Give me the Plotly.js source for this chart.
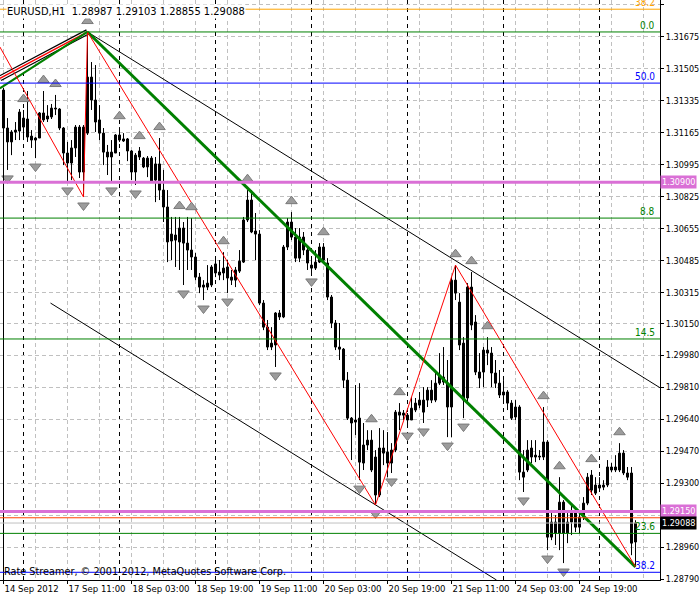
<!DOCTYPE html>
<html><head><meta charset="utf-8">
<script src="https://cdn.plot.ly/plotly-3.0.1.min.js"></script>
<style>html,body{margin:0;padding:0;background:#fff}#chart{width:700px;height:600px}</style>
</head><body><div id="chart"></div>
<script>
const symbolName = "EURUSD,H1";
const opens = [
1.31391,1.31189,1.31115,1.31168,1.31173,1.31194,1.31237,1.31146,1.31125,1.31136,
1.31269,1.31237,1.31248,1.31295,1.31290,1.31189,1.31056,1.31003,1.31083,1.31194,
1.30955,1.31162,1.31460,1.31338,1.31232,1.31162,1.31061,1.31035,1.31056,1.31152,
1.31131,1.31131,1.31067,1.30955,1.31067,1.31029,1.30982,1.31029,1.30912,1.30998,
1.30859,1.30769,1.30588,1.30620,1.30583,1.30657,1.30577,1.30540,1.30503,1.30396,
1.30354,1.30343,1.30354,1.30418,1.30423,1.30418,1.30450,1.30396,1.30380,1.30428,
1.30476,1.30700,1.30806,1.30641,1.30625,1.30258,1.30130,1.30024,1.30035,1.30205,
1.30184,1.30556,1.30689,1.30609,1.30497,1.30609,1.30540,1.30460,1.30444,1.30476,
1.30487,1.30471,1.30290,1.30152,1.30024,1.30013,1.29848,1.29646,1.29625,1.29646,
1.29407,1.29503,1.29529,1.29439,1.29237,1.29487,1.29465,1.29407,1.29476,1.29662,
1.29673,1.29662,1.29636,1.29689,1.29715,1.29742,1.29742,1.29795,1.29742,1.29832,
1.29838,1.29832,1.29705,1.30380,1.30263,1.30045,1.29753,1.30343,1.30157,1.29859,
1.29891,1.29992,1.29992,1.29886,1.29832,1.29769,1.29785,1.29726,1.29652,1.29705,
1.29332,1.29370,1.29439,1.29449,1.29444,1.29439,1.29519,1.29013,1.29093,1.29034,
1.29199,1.29034,1.29093,1.29141,1.29066,1.29120,1.29194,1.29343,1.29247,1.29290,
1.29279,1.29290,1.29386,1.29386,1.29370,1.29460,1.29354,1.29354,1.28987];
const highs = [
1.31402,1.31242,1.31178,1.31221,1.31290,1.31285,1.31386,1.31178,1.31141,1.31274,
1.31386,1.31311,1.31317,1.31365,1.31295,1.31194,1.31115,1.31125,1.31205,1.31205,
1.31205,1.31700,1.31540,1.31524,1.31311,1.31189,1.31099,1.31125,1.31157,1.31194,
1.31162,1.31136,1.31072,1.31056,1.31088,1.31035,1.31040,1.31040,1.31035,1.31136,
1.30966,1.30859,1.30716,1.30716,1.30716,1.30689,1.30716,1.30710,1.30524,1.30418,
1.30380,1.30460,1.30460,1.30487,1.30487,1.30529,1.30487,1.30434,1.30450,1.30540,
1.30716,1.30859,1.30859,1.30737,1.30646,1.30274,1.30168,1.30130,1.30210,1.30221,
1.30567,1.30710,1.30742,1.30657,1.30657,1.30636,1.30551,1.30503,1.30540,1.30577,
1.30577,1.30497,1.30301,1.30168,1.30152,1.30019,1.29891,1.29652,1.29822,1.29832,
1.29620,1.29582,1.29582,1.29476,1.29593,1.29582,1.29572,1.29513,1.29689,1.29726,
1.29689,1.29673,1.29758,1.29753,1.29785,1.29811,1.29811,1.29848,1.29902,1.29992,
1.30024,1.29955,1.30396,1.30460,1.30311,1.30077,1.30364,1.30423,1.30194,1.29992,
1.30024,1.30077,1.30024,1.29955,1.29902,1.29848,1.29795,1.29742,1.29742,1.29715,
1.29476,1.29529,1.29529,1.29529,1.29476,1.29705,1.29529,1.29157,1.29130,1.29332,
1.29210,1.29141,1.29183,1.29157,1.29141,1.29226,1.29354,1.29370,1.29332,1.29332,
1.29316,1.29423,1.29407,1.29449,1.29513,1.29476,1.29386,1.29386,1.29103];
const lows = [
1.31125,1.30966,1.31045,1.31125,1.31125,1.31125,1.31115,1.31083,1.31029,1.31136,
1.31221,1.31221,1.31237,1.31258,1.31178,1.30992,1.30902,1.30912,1.31035,1.30923,
1.30822,1.31152,1.31285,1.31168,1.31125,1.30992,1.30939,1.30902,1.31056,1.31115,
1.31115,1.31013,1.30912,1.30886,1.31019,1.30976,1.30928,1.30902,1.30795,1.30806,
1.30689,1.30476,1.30487,1.30450,1.30434,1.30354,1.30434,1.30434,1.30380,1.30311,
1.30274,1.30327,1.30343,1.30396,1.30380,1.30380,1.30311,1.30354,1.30343,1.30418,
1.30471,1.30689,1.30630,1.30487,1.30247,1.30114,1.30008,1.30008,1.29918,1.30168,
1.30178,1.30540,1.30593,1.30476,1.30476,1.30513,1.30434,1.30418,1.30434,1.30471,
1.30471,1.30274,1.30125,1.30008,1.29955,1.29806,1.29636,1.29423,1.29556,1.29316,
1.29370,1.29476,1.29359,1.29184,1.29226,1.29396,1.29332,1.29354,1.29465,1.29582,
1.29636,1.29598,1.29636,1.29678,1.29699,1.29620,1.29705,1.29726,1.29731,1.29822,
1.29822,1.29545,1.29545,1.30274,1.30008,1.29646,1.29726,1.30114,1.29875,1.29806,
1.29811,1.29928,1.29811,1.29806,1.29753,1.29726,1.29689,1.29636,1.29636,1.29316,
1.29253,1.29359,1.29407,1.29412,1.29423,1.29423,1.28944,1.28997,1.28971,1.28944,
1.28875,1.28981,1.29024,1.29040,1.29034,1.29104,1.29183,1.29237,1.29237,1.29253,
1.29263,1.29279,1.29359,1.29359,1.29359,1.29343,1.29316,1.28917,1.28855];
const closes = [
1.31189,1.31115,1.31168,1.31178,1.31274,1.31242,1.31141,1.31125,1.31136,1.31269,
1.31232,1.31253,1.31295,1.31290,1.31189,1.31056,1.31003,1.31083,1.31194,1.30955,
1.31194,1.31460,1.31338,1.31221,1.31162,1.31061,1.31035,1.31061,1.31152,1.31125,
1.31120,1.31067,1.30955,1.31045,1.31035,1.30982,1.31029,1.30907,1.30998,1.30859,
1.30769,1.30583,1.30625,1.30593,1.30657,1.30577,1.30540,1.30503,1.30396,1.30343,
1.30343,1.30364,1.30450,1.30466,1.30407,1.30444,1.30391,1.30380,1.30434,1.30481,
1.30700,1.30806,1.30636,1.30625,1.30258,1.30130,1.30024,1.30045,1.30205,1.30184,
1.30556,1.30689,1.30609,1.30497,1.30609,1.30540,1.30471,1.30444,1.30476,1.30556,
1.30556,1.30290,1.30152,1.30024,1.30013,1.29848,1.29646,1.29620,1.29636,1.29412,
1.29503,1.29529,1.29370,1.29237,1.29487,1.29460,1.29407,1.29476,1.29678,1.29678,
1.29662,1.29636,1.29699,1.29726,1.29742,1.29678,1.29795,1.29742,1.29832,1.29875,
1.29864,1.29705,1.30380,1.30311,1.30035,1.29742,1.30343,1.30141,1.29891,1.29891,
1.30008,1.30008,1.29886,1.29832,1.29769,1.29785,1.29726,1.29646,1.29705,1.29359,
1.29359,1.29476,1.29487,1.29439,1.29439,1.29519,1.29013,1.29093,1.29034,1.29199,
1.29034,1.29093,1.29141,1.29066,1.29120,1.29194,1.29332,1.29263,1.29290,1.29274,
1.29290,1.29386,1.29370,1.29370,1.29460,1.29354,1.29332,1.28981,1.29088];

const timeTickIndex = [0,16,32,48,64,80,96,112,128,144];
const timeTickText = ["14 Sep 2012","17 Sep 11:00","18 Sep 03:00","18 Sep 19:00","19 Sep 11:00",
  "20 Sep 03:00","20 Sep 19:00","21 Sep 11:00","24 Sep 03:00","24 Sep 19:00"];
const daySeparators = [5,29,53,77,101,125,149];
const priceTicks = [1.31845,1.31675,1.31505,1.31335,1.31165,1.30995,1.30825,1.30655,1.30485,
  1.30315,1.30150,1.29980,1.29810,1.29640,1.29470,1.29300,1.29130,1.28960,1.28790];
const priceTickText = ["1.31845","1.31675","1.31505","1.31335","1.31165","1.30995","1.30825","1.30655","1.30485",
  "1.30315","1.30150","1.29980","1.29810","1.29640","1.29470","1.29300","","1.28960","1.28790"];

const upFractals = [5,10,13,21,29,34,39,44,47,55,61,72,80,92,99,113,117,121,135,139,147,154];
const downFractals = [1,8,16,20,27,33,45,50,56,68,77,89,93,97,101,105,111,115,130,136,140];

const zigzagIndex = [-0.9,20,21,93,113,158];
const zigzagPrice = [1.31620,1.30822,1.31700,1.29184,1.30460,1.28855];
const trendIndex = [21,158];
const trendPrice = [1.31700,1.28855];
const riseGreenIndex = [-0.9,21];
const riseGreenPrice = [1.31400,1.31700];
const riseRedIndex = [-0.9,21];
const riseRedPrice = [1.31453,1.31700];
const channelUpperIndex = [21,164.25];
const channelUpperPrice = [1.31700,1.29806];
const channelLowerIndex = [11.75,123.25];
const channelLowerPrice = [1.30258,1.28785];

const levelPrices = [1.31821,1.31700,1.31428,1.30900,1.30710,1.30067,1.29150,1.29116,1.29088,1.29033,1.28826];
const levelNames  = ["38.2","0.0","50.0","","8.8","14.5","","","","23.6","38.2"];
const markedPrices = [1.30900,1.29150];

/* styles */
const levelColors = ["#FFA500","#008000","#0000FF","#DA70D6","#008000","#008000","#DA70D6","#FF4500","#C0C0C0","#008000","#0000FF"];
const levelWidths = [1,1,1,3,1,1,3,1,1,1,1];
const FONT = "Tahoma, 'DejaVu Sans Condensed', 'Liberation Sans', Arial, sans-serif";
const upOffset = 0.00058, downOffset = 0.00045;

const idx = opens.map((_, i) => i);
const n = closes.length;

const traces = [];
// wicks
const wx = [], wy = [];
idx.forEach(i => { wx.push(i, i, null); wy.push(lows[i], highs[i], null); });
traces.push({type:'scatter', mode:'lines', x:wx, y:wy, line:{color:'#000000', width:1},
  hoverinfo:'skip', showlegend:false, connectgaps:false});
// bodies
const bodyBase = idx.map(i => Math.min(opens[i], closes[i]));
const bodyLen = idx.map(i => Math.max(Math.abs(closes[i] - opens[i]), 0.000005));
const bodyFill = idx.map(i => closes[i] >= opens[i] ? '#FFFFFF' : '#000000');
traces.push({type:'bar', x: idx, base: bodyBase, y: bodyLen, width: 0.5,
  marker:{color: bodyFill, line:{color:'#000000', width:1}},
  hoverinfo:'skip', showlegend:false});

function line(x, y, color, width, dash){
  return {type:'scatter', mode:'lines', x:x, y:y, line:{color:color, width:width, dash:dash||'solid'},
    hoverinfo:'skip', showlegend:false, cliponaxis:true};
}
traces.push(line(riseRedIndex, riseRedPrice, '#000000', 6));
traces.push(line(riseRedIndex, riseRedPrice, '#FFFFFF', 3.5));
traces.push(line(riseRedIndex, riseRedPrice, '#FF0000', 1.5));
traces.push(line(riseGreenIndex, riseGreenPrice, '#008000', 2));
traces.push(line(channelUpperIndex, channelUpperPrice, '#000000', 1));
traces.push(line(channelLowerIndex, channelLowerPrice, '#000000', 1));
traces.push(line(trendIndex, trendPrice, '#008000', 3));
traces.push(line(zigzagIndex, zigzagPrice, '#FF0000', 1));

traces.push({type:'scatter', mode:'markers', x: upFractals, y: upFractals.map(i => highs[i] + upOffset),
  marker:{symbol:'triangle-up', size:10, color:'#9C9C9C', line:{color:'#7A7A7A', width:1}},
  hoverinfo:'skip', showlegend:false});
traces.push({type:'scatter', mode:'markers', x: downFractals, y: downFractals.map(i => lows[i] - downOffset),
  marker:{symbol:'triangle-down', size:10, color:'#9C9C9C', line:{color:'#7A7A7A', width:1}},
  hoverinfo:'skip', showlegend:false});

const shapes = [];
daySeparators.forEach(d => shapes.push({type:'line', xref:'x', yref:'paper', x0:d, x1:d, y0:0, y1:1,
  line:{color:'#000000', width:1, dash:'4px,4px'}, layer:'below'}));
shapes.push({type:'line', xref:'x', yref:'paper', x0:idx[0], x1:idx[0], y0:0, y1:0.848,
  line:{color:'#000000', width:1}, layer:'above'});
levelPrices.forEach((p, k) => shapes.push({type:'line', xref:'paper', yref:'y', x0:0, x1:1, y0:p, y1:p,
  line:{color:levelColors[k], width:levelWidths[k]}, layer:'above'}));

const annotations = [];
levelPrices.forEach((p, k) => {
  if(!levelNames[k]) return;
  annotations.push({xref:'paper', yref:'y', x:1, y:p, xanchor:'right', yanchor:'bottom', xshift:-3, yshift:-1,
    text: levelNames[k], showarrow:false, font:{family:FONT, size:10, color:levelColors[k]}});
});
markedPrices.forEach(p => annotations.push({xref:'paper', yref:'y', x:1, y:p, xanchor:'left', yanchor:'middle', xshift:0,
  text: p.toFixed(5), showarrow:false, bgcolor:'#DA70D6', borderpad:1, font:{family:FONT, size:9, color:'#FFFFFF'}}));
annotations.push({xref:'paper', yref:'y', x:1, y:closes[n-1], xanchor:'left', yanchor:'middle', xshift:0,
  text: closes[n-1].toFixed(5), showarrow:false, bgcolor:'#000000', borderpad:1, font:{family:FONT, size:9, color:'#FFFFFF'}});
annotations.push({xref:'paper', yref:'paper', x:0, y:1, xanchor:'left', yanchor:'top', xshift:6, yshift:-4,
  text: symbolName + '  ' + [opens[n-1],highs[n-1],lows[n-1],closes[n-1]].map(v=>v.toFixed(5)).join(' '),
  showarrow:false, bgcolor:'#FFFFFF', borderpad:0, font:{family:FONT, size:11, color:'#000000'}});
annotations.push({xref:'paper', yref:'paper', x:0, y:0, xanchor:'left', yanchor:'bottom', xshift:3, yshift:1,
  text:'Rate Streamer, © 2001-2012, MetaQuotes Software Corp.', showarrow:false, borderpad:0,
  font:{family:FONT, size:10.8, color:'#000000'}});

const layout = {
  width:700, height:600, margin:{l:0, r:40, t:0, b:20},
  paper_bgcolor:'#FFFFFF', plot_bgcolor:'#FFFFFF', showlegend:false, barmode:'overlay',
  xaxis:{type:'linear', range:[-0.875, 164.125], tickmode:'array', tickvals:timeTickIndex, ticktext:timeTickText,
    ticks:'outside', ticklen:3, tickcolor:'#000000', ticklabelposition:'outside right', tickangle:0,
    showgrid:true, gridcolor:'#C0C0C0', griddash:'4px,3px', gridwidth:1,
    minor:{tick0:0, dtick:8, showgrid:true, gridcolor:'#C0C0C0', griddash:'4px,3px', gridwidth:1, ticks:''},
    showline:true, linecolor:'#000000', linewidth:1, zeroline:false, fixedrange:true,
    tickfont:{family:FONT, size:9.5, color:'#000000'}},
  yaxis:{side:'right', range:[1.28785, 1.31870], tickmode:'array', tickvals:priceTicks, ticktext:priceTickText,
    ticks:'outside', ticklen:3, tickcolor:'#000000',
    showgrid:true, gridcolor:'#C0C0C0', griddash:'4px,3px', gridwidth:1,
    showline:true, linecolor:'#000000', linewidth:1, zeroline:false, fixedrange:true,
    tickfont:{family:FONT, size:9, color:'#000000'}},
  shapes:shapes, annotations:annotations
};
Plotly.newPlot('chart', traces, layout, {displayModeBar:false, staticPlot:true});
</script></body></html>
